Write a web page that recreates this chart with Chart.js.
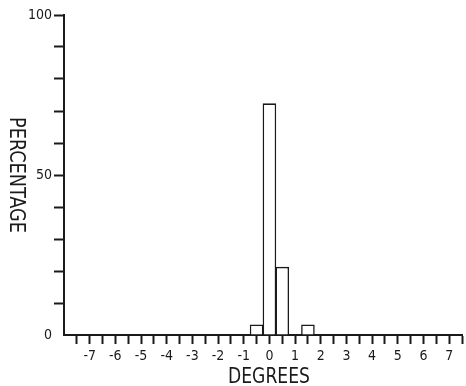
<!DOCTYPE html>
<html>
<head>
<meta charset="utf-8">
<script src="https://cdn.jsdelivr.net/npm/chart.js@4/dist/chart.umd.min.js"></script>
<style>
  html, body { margin: 0; padding: 0; background: #ffffff; }
  #wrap { width: 466px; height: 386px; }
</style>
</head>
<body>
<div id="wrap"><canvas id="c" width="466" height="386"></canvas></div>
<script>
// Histogram bins (degrees) and percentages
const binCenters = [-0.5, 0, 0.5, 1.5];
const percentages = [3.3, 72.4, 21.3, 3.3];
const xLabel = 'DEGREES';
const yLabel = 'PERCENTAGE';
const xMin = -8, xMax = 7.5;
const yMin = 0, yMax = 100;

const INK = '#1a1a1a';
const tickFont = { family: 'DejaVu Sans Condensed', size: 14 };

const titlePlugin = {
  id: 'plotterTitles',
  afterDraw(chart) {
    const ctx = chart.ctx;
    function drawFitted(text, cx, baseY, targetW, capH, rotate) {
      ctx.save();
      const size = capH / 0.729;
      ctx.font = size + 'px "DejaVu Sans Condensed"';
      ctx.fillStyle = INK;
      ctx.textAlign = 'center';
      ctx.textBaseline = 'alphabetic';
      const w = ctx.measureText(text).width;
      if (rotate) {
        ctx.translate(baseY, cx);
        ctx.rotate(Math.PI / 2);
      } else {
        ctx.translate(cx, baseY);
      }
      ctx.scale(targetW / w, 1);
      ctx.fillText(text, 0, 0);
      ctx.restore();
    }
    drawFitted(xLabel, 269, 383, 82, 16, false);
    drawFitted(yLabel, 175, 10, 116, 16, true);
  }
};

new Chart(document.getElementById('c'), {
  type: 'bar',
  data: {
    datasets: [{
      data: binCenters.map((x, i) => ({ x: x, y: percentages[i] })),
      backgroundColor: '#ffffff',
      borderColor: INK,
      borderWidth: 1.6,
      barPercentage: 1.06,
      categoryPercentage: 1,
      borderSkipped: 'bottom'
    }]
  },
  options: {
    responsive: false,
    animation: false,
    devicePixelRatio: 1,
    layout: { padding: { left: 0, top: 15, right: 3, bottom: 0 } },
    plugins: { legend: { display: false }, tooltip: { enabled: false } },
    scales: {
      x: {
        type: 'linear',
        min: xMin,
        max: xMax,
        offset: false,
        afterFit(scale) { scale.height = 51; },
        ticks: {
          stepSize: 0.5,
          autoSkip: false,
          maxRotation: 0,
          minRotation: 0,
          padding: 4,
          color: INK,
          font: tickFont,
          callback(v) {
            if (v === xMin) return '';
            return Number.isInteger(v) ? String(v) : '';
          }
        },
        grid: {
          offset: false,
          drawOnChartArea: false,
          drawTicks: true,
          tickLength: 9,
          tickWidth: 2,
          tickColor(ctx) { return ctx.tick && ctx.tick.value === xMin ? 'rgba(0,0,0,0)' : INK; }
        },
        border: { display: true, color: INK, width: 2 }
      },
      y: {
        min: yMin,
        max: yMax,
        afterFit(scale) { scale.width = 64; },
        ticks: {
          stepSize: 10,
          padding: 2,
          color: INK,
          font: tickFont,
          callback(v) { return v % 50 === 0 ? String(v) : ''; }
        },
        grid: {
          drawOnChartArea: false,
          drawTicks: true,
          tickLength: 10,
          tickWidth: 2,
          tickColor(ctx) { return ctx.tick && ctx.tick.value === yMin ? 'rgba(0,0,0,0)' : INK; }
        },
        border: { display: true, color: INK, width: 2 }
      }
    }
  },
  plugins: [titlePlugin]
});
</script>
</body>
</html>
